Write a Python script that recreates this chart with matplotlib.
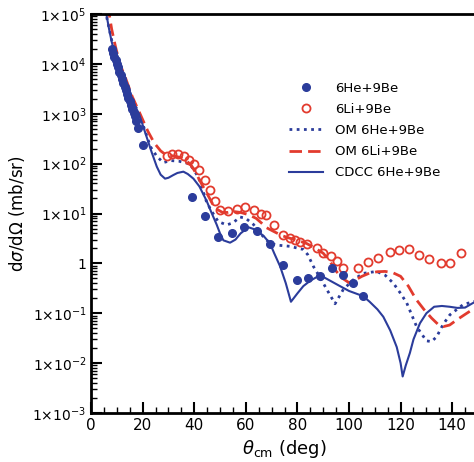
import math

import matplotlib
matplotlib.use("Agg")
import matplotlib.pyplot as plt
from matplotlib.ticker import FixedLocator, FuncFormatter, LogLocator, MultipleLocator

# ---- data ----
he_theta = [8.0, 8.5, 9.0, 9.5, 10.0, 10.5, 11.0, 11.5, 12.0, 12.5, 13.0, 13.5, 14.0,
            14.5, 15.0, 15.5, 16.0, 16.5, 17.0, 17.5, 18.3, 20.3,
            39.0, 44.2, 49.3, 54.5, 59.4, 64.2, 69.4, 74.5, 79.7, 84.2, 88.8,
            93.3, 97.6, 101.5, 105.3]
he_xs = [20000, 16500, 14000, 12000, 10000, 8500, 7000, 6000, 5000, 4200, 3500, 3000, 2500,
         2100, 1800, 1500, 1250, 1050, 900, 700, 520, 240,
         21, 9, 3.4, 4.1, 5.4, 4.5, 2.5, 0.93, 0.47, 0.50, 0.55,
         0.80, 0.59, 0.40, 0.22]

li_theta = [29.5, 31.5, 33.8, 36.0, 38.0, 40.0, 42.0, 44.0, 46.0, 48.0, 50.0, 53.0, 56.5,
            59.7, 63.0, 66.0, 68.0, 71.0, 74.5, 77.0, 79.0, 81.0, 83.6, 87.5, 90.0,
            93.0, 95.2, 97.8, 103.6, 107.5, 111.4, 115.9, 119.4, 123.3, 127.3, 131.1,
            135.5, 139.1, 143.3]
li_xs = [140, 155, 156, 140, 120, 100, 75, 48, 30, 18, 12, 11, 12.2,
         13.5, 11.7, 10, 9.3, 6, 3.7, 3.2, 2.9, 2.7, 2.5, 2.0, 1.6,
         1.4, 1.1, 0.82, 0.80, 1.09, 1.27, 1.72, 1.86, 1.95, 1.48, 1.21,
         1.01, 1.04, 1.58]

om_he_theta = [5.5, 8.0, 10.0, 12.0, 15.0, 18.6, 21.0, 23.0, 25.5, 28.0, 31.0, 34.0, 38.0,
               40.0, 42.2, 44.8, 46.8, 49.3, 52.6, 55.0, 57.8, 60.0, 63.0, 66.0, 69.4,
               73.0, 77.0, 82.3, 84.0, 86.2, 89.0, 91.4, 94.6, 97.8, 101.7, 105.5,
               110.7, 114.0, 117.2, 120.0, 122.4, 126.2, 130.0, 132.0, 134.0, 136.5,
               139.1, 144.3, 148.2, 150.0]
om_he_xs = [1.2e5, 3e4, 1.2e4, 6000, 2500, 1000, 450, 220, 140, 105, 115, 112, 100,
            75, 45, 17, 11, 6.9, 5.9, 6.5, 8.5, 8, 6, 3.8, 2.5,
            2.3, 2.2, 1.9, 1.5, 0.87, 0.5, 0.3, 0.155, 0.30, 0.47, 0.63,
            0.69, 0.58, 0.40, 0.25, 0.16, 0.054, 0.028, 0.027, 0.034, 0.06,
            0.093, 0.15, 0.17, 0.18]

om_li_theta = [6.5, 8.0, 9.5, 11.2, 13.5, 16.0, 19.0, 22.0, 24.5, 27.0, 29.0, 31.0, 33.0,
               35.0, 37.0, 39.0, 41.0, 43.0, 45.0, 47.0, 49.0, 51.0, 53.0, 55.0, 58.0,
               61.0, 64.0, 66.0, 68.0, 70.7, 74.0, 77.0, 80.0, 83.6, 87.0, 90.0, 92.6,
               95.0, 97.5, 100.0, 102.0, 105.0, 108.0, 111.0, 114.0, 117.0, 120.0,
               123.0, 126.0, 129.0, 132.0, 134.5, 136.6, 139.0, 142.0, 145.0, 148.0, 150.0]
om_li_xs = [1.5e5, 5e4, 2.2e4, 1e4, 5000, 2200, 1000, 450, 260, 180, 150, 145, 140,
            130, 115, 90, 60, 38, 25, 16, 12, 10.5, 10.5, 11, 10.5,
            9.5, 8, 6.5, 5.2, 4.4, 3.6, 3.2, 2.9, 2.5, 2.0, 1.6, 1.1,
            0.7, 0.5, 0.41, 0.45, 0.55, 0.64, 0.68, 0.69, 0.65, 0.55,
            0.35, 0.19, 0.12, 0.08, 0.06, 0.054, 0.058, 0.075, 0.095, 0.12, 0.14]

cdcc_theta = [5.8, 7.0, 8.0, 10.0, 12.0, 14.0, 16.0, 18.6, 21.0, 23.5, 25.5, 27.0, 28.7,
              30.0, 31.9, 33.5, 35.8, 37.5, 39.7, 42.0, 44.8, 46.5, 48.7, 50.0, 51.3,
              53.9, 56.0, 58.0, 61.0, 64.0, 67.0, 69.4, 71.0, 73.3, 75.5, 77.5, 80.0,
              82.3, 85.0, 88.8, 92.0, 96.5, 100.0, 105.5, 108.0, 111.0, 113.3, 116.0,
              118.5, 120.0, 120.8, 122.0, 123.6, 125.0, 127.5, 130.0, 133.0, 136.0,
              139.0, 142.0, 145.0, 148.0, 150.0]
cdcc_xs = [1.1e5, 5e4, 2.8e4, 1.1e4, 5500, 3000, 1800, 1000, 420, 170, 87, 60, 50,
           52, 59, 65, 69, 62, 50, 35, 18, 11, 6, 4, 2.9,
           2.6, 3.0, 4.0, 5.3, 4.7, 3.5, 2.5, 1.6, 0.87, 0.4, 0.17, 0.25,
           0.35, 0.45, 0.58, 0.47, 0.35, 0.28, 0.22, 0.17, 0.12, 0.085, 0.045,
           0.021, 0.01, 0.0054, 0.009, 0.016, 0.03, 0.063, 0.1, 0.135, 0.14,
           0.135, 0.128, 0.13, 0.16, 0.18]

BLUE = "#2B3C9B"
RED = "#E23B2E"

fig = plt.figure(figsize=(4.74, 4.62), dpi=100)
ax = fig.add_axes([91 / 474, 49 / 462, 387 / 474, 399 / 462])

ax.plot(om_he_theta, om_he_xs, color=BLUE, ls=(0, (1, 1.6)), lw=2.0,
        label="OM 6He+9Be", zorder=2)
ax.plot(om_li_theta, om_li_xs, color=RED, ls=(0, (4.5, 2.2)), lw=2.0,
        label="OM 6Li+9Be", zorder=2)
ax.plot(cdcc_theta, cdcc_xs, color=BLUE, ls="-", lw=1.5,
        label="CDCC 6He+9Be", zorder=2)
ax.plot(li_theta, li_xs, ls="none", marker="o", ms=5.8, mfc="none", mec=RED, mew=1.3,
        label="6Li+9Be", zorder=3)
ax.plot(he_theta, he_xs, ls="none", marker="o", ms=5.5, mfc=BLUE, mec=BLUE,
        label="6He+9Be", zorder=4)

ax.set_yscale("log")
ax.set_xlim(0, 150)
ax.set_ylim(1e-3, 1e5)

ax.xaxis.set_major_locator(MultipleLocator(20))
ax.xaxis.set_minor_locator(MultipleLocator(5))
ax.yaxis.set_major_locator(FixedLocator([10.0 ** k for k in range(-3, 6)]))
ax.yaxis.set_minor_locator(LogLocator(base=10, subs=range(2, 10), numticks=20))


def ylab(v, pos):
    k = int(round(math.log10(v)))
    if k == 0:
        return "1"
    return r"$1{\times}10^{%d}$" % k


ax.yaxis.set_major_formatter(FuncFormatter(ylab))
ax.yaxis.set_minor_formatter(FuncFormatter(lambda v, p: ""))

ax.tick_params(which="both", direction="in", top=False, right=False)
ax.tick_params(which="major", length=8, width=1.5, labelsize=10)
ax.tick_params(which="minor", length=4, width=1.0)
ax.tick_params(axis="x", labelsize=11)

for side in ("left", "bottom", "top"):
    ax.spines[side].set_linewidth(2.0)
ax.spines["right"].set_visible(False)

ax.set_xlabel(r"$\theta_{\rm cm}$ (deg)", fontsize=13)
ax.set_ylabel(r"d$\sigma$/d$\Omega$ (mb/sr)", fontsize=12)

handles, labels = ax.get_legend_handles_labels()
order = ["6He+9Be", "6Li+9Be", "OM 6He+9Be", "OM 6Li+9Be", "CDCC 6He+9Be"]
hmap = dict(zip(labels, handles))
ax.legend([hmap[k] for k in order], order, loc="upper left",
          bbox_to_anchor=(0.48, 0.86), frameon=False, fontsize=9.5,
          handlelength=2.6, handletextpad=0.9, labelspacing=0.62)

fig.savefig("out.png", dpi=100)
